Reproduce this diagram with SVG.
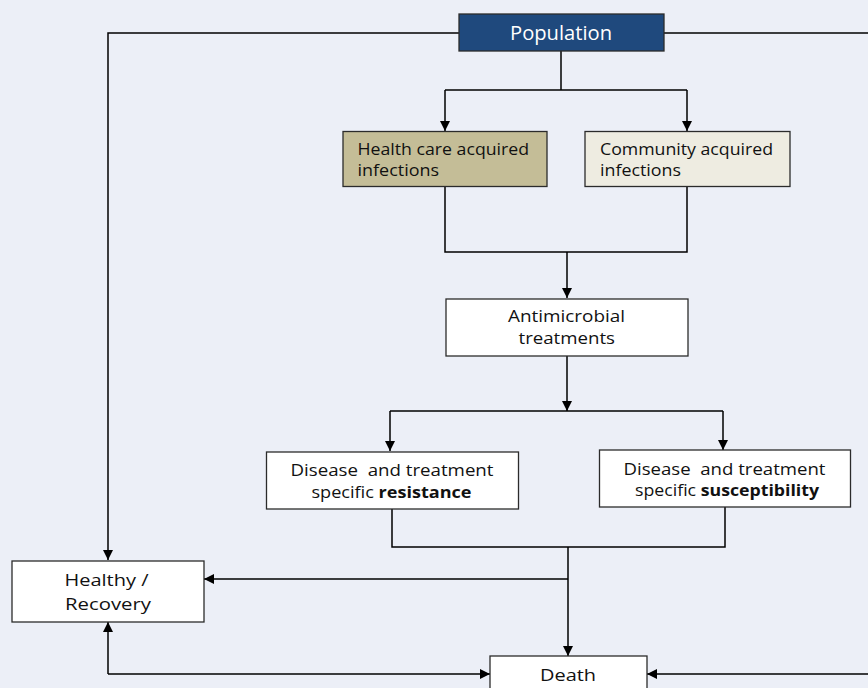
<svg xmlns="http://www.w3.org/2000/svg" width="868" height="688" viewBox="0 0 868 688">
<style>
.box{stroke:#2b2b2b;stroke-width:1.3}
.t{font-family:"Open Sans","Liberation Sans",sans-serif;font-size:16px;fill:#111}
.c{stroke:#000;stroke-width:1.5;fill:none}
.a{marker-end:url(#ah)}
</style>
<defs>
<marker id="ah" markerUnits="userSpaceOnUse" markerWidth="10" markerHeight="10" refX="10" refY="5" orient="auto-start-reverse" viewBox="0 0 10 10">
<path d="M0,0 L10,5 L0,10 z" fill="#000"/>
</marker>
</defs>
<rect width="868" height="688" fill="#ECEFF7"/>
<g id="connectors">
<path class="c a" d="M459,33 H108 V560"/>
<path class="c" d="M664,33 H868"/>
<path class="c" d="M561,51 V90"/>
<path class="c" d="M445,90 H687"/>
<path class="c a" d="M445,90 V131"/>
<path class="c a" d="M687,90 V131"/>
<path class="c" d="M445,187 V252 H687 V187"/>
<path class="c a" d="M567,252 V298"/>
<path class="c a" d="M567,356 V411"/>
<path class="c" d="M390,411 H723"/>
<path class="c a" d="M390,411 V451"/>
<path class="c a" d="M723,411 V450"/>
<path class="c" d="M392,509 V547 H725 V507"/>
<path class="c a" d="M568,547 V656"/>
<path class="c a" d="M568,579 H204"/>
<path class="c a" d="M108,674 V622" />
<path class="c a" d="M108,674 H490"/>
<path class="c a" d="M868,674 H647"/>
</g>
<g id="population">
<rect class="box" x="459" y="14" width="205" height="37" fill="#1F497D"/>
<text class="t" x="510" y="39.5" font-size="20" style="fill:#fff;font-size:20px" textLength="102" lengthAdjust="spacingAndGlyphs">Population</text>
</g>
<g id="hcai">
<rect class="box" x="343" y="131.5" width="204" height="55" fill="#C4BD97"/>
<text class="t" x="357.5" y="155" textLength="171.5" lengthAdjust="spacingAndGlyphs">Health care acquired</text>
<text class="t" x="357.5" y="176" textLength="81.5" lengthAdjust="spacingAndGlyphs">infections</text>
</g>
<g id="cai">
<rect class="box" x="585" y="131.5" width="205" height="55" fill="#EEECE1"/>
<text class="t" x="600" y="155" textLength="173" lengthAdjust="spacingAndGlyphs">Community acquired</text>
<text class="t" x="600" y="176" textLength="81" lengthAdjust="spacingAndGlyphs">infections</text>
</g>
<g id="antimicrobial">
<rect class="box" x="446" y="299" width="242" height="57" fill="#fff"/>
<text class="t" x="508" y="322" textLength="117" lengthAdjust="spacingAndGlyphs">Antimicrobial</text>
<text class="t" x="518.5" y="343.5" textLength="96.5" lengthAdjust="spacingAndGlyphs">treatments</text>
</g>
<g id="resistance">
<rect class="box" x="266.5" y="452" width="252" height="57" fill="#fff"/>
<text class="t" x="290.5" y="476" xml:space="preserve" textLength="203" lengthAdjust="spacingAndGlyphs">Disease  and treatment</text>
<text class="t" x="311.5" y="498" textLength="160" lengthAdjust="spacingAndGlyphs">specific <tspan font-weight="bold">resistance</tspan></text>
</g>
<g id="susceptibility">
<rect class="box" x="599.5" y="450" width="251" height="57" fill="#fff"/>
<text class="t" x="623.5" y="474.5" xml:space="preserve" textLength="202" lengthAdjust="spacingAndGlyphs">Disease  and treatment</text>
<text class="t" x="635" y="496" textLength="184" lengthAdjust="spacingAndGlyphs">specific <tspan font-weight="bold">susceptibility</tspan></text>
</g>
<g id="healthy">
<rect class="box" x="12" y="561" width="192" height="61" fill="#fff"/>
<text class="t" x="64.5" y="585.5" textLength="84" lengthAdjust="spacingAndGlyphs">Healthy /</text>
<text class="t" x="65" y="610" textLength="86" lengthAdjust="spacingAndGlyphs">Recovery</text>
</g>
<g id="death">
<rect class="box" x="490" y="656" width="157" height="44" fill="#fff"/>
<text class="t" x="540" y="681" textLength="56" lengthAdjust="spacingAndGlyphs">Death</text>
</g>
</svg>
